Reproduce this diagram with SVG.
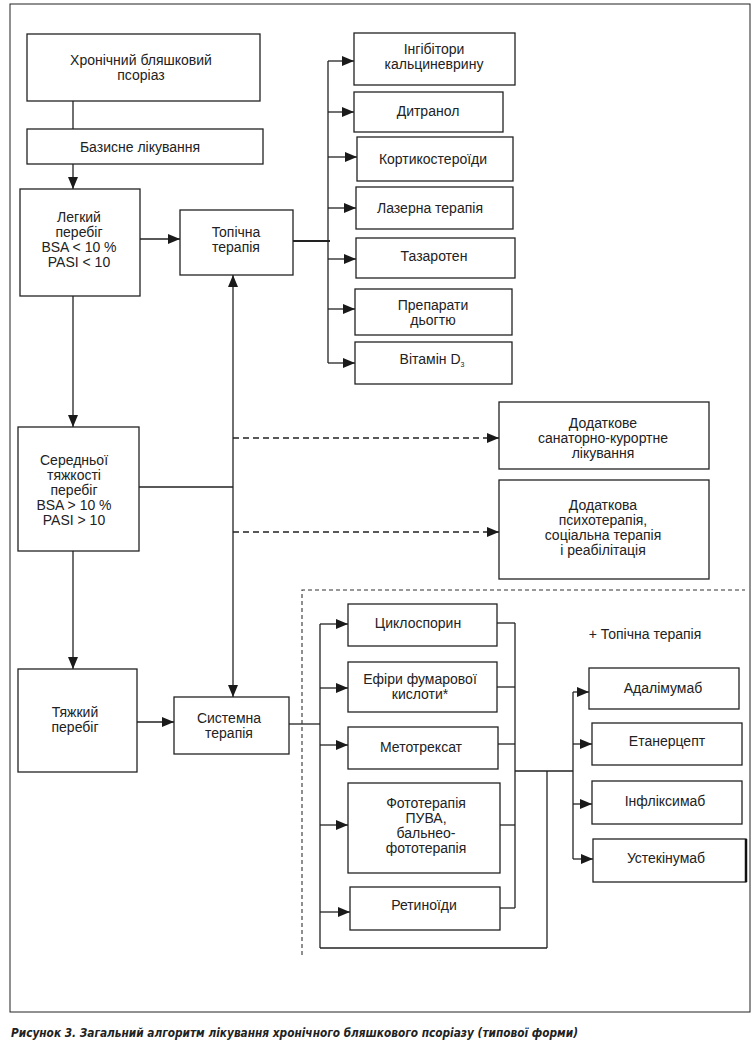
<svg xmlns="http://www.w3.org/2000/svg" width="756" height="1048" viewBox="0 0 756 1048">
<defs>
<marker id="ah" markerWidth="12" markerHeight="10" refX="12" refY="5" orient="auto" markerUnits="userSpaceOnUse">
<path d="M0,0 L12,5 L0,10 Z" fill="#1a1a1a"/>
</marker>
</defs>
<style>
.box{fill:#fff;stroke:#222;stroke-width:1.3}
.t{font-family:"Liberation Sans",Arial,sans-serif;font-size:14px;fill:#222;text-anchor:middle}
.c{fill:none;stroke:#222;stroke-width:1.3}
.ca{fill:none;stroke:#222;stroke-width:1.3;marker-end:url(#ah)}
.d{fill:none;stroke:#222;stroke-width:1.6;stroke-dasharray:6,4;marker-end:url(#ah)}
.dr{fill:none;stroke:#333;stroke-width:1.1;stroke-dasharray:4,3}
.cap{font-family:"Liberation Sans Narrow","DejaVu Sans Condensed","Liberation Sans",sans-serif;font-size:12px;font-weight:bold;font-style:italic;fill:#222}
</style>
<rect x="0" y="0" width="756" height="1048" fill="#fff"/>
<rect x="10" y="4" width="740" height="1008" fill="none" stroke="#222" stroke-width="1"/>

<g id="connectors">
<line class="c" x1="73" y1="101" x2="73" y2="129"/>
<line class="ca" x1="73" y1="164" x2="73" y2="189"/>
<line class="ca" x1="140" y1="239" x2="180" y2="239"/>
<line class="c" x1="293" y1="241" x2="330" y2="241" style="stroke-width:2"/>
<line class="c" x1="328" y1="61" x2="328" y2="363"/>
<line class="ca" x1="328" y1="61" x2="354" y2="61"/>
<line class="ca" x1="328" y1="112" x2="354" y2="112"/>
<line class="ca" x1="328" y1="157" x2="357" y2="157"/>
<line class="ca" x1="328" y1="208" x2="356" y2="208"/>
<line class="ca" x1="328" y1="259" x2="356" y2="259"/>
<line class="ca" x1="328" y1="309" x2="355" y2="309"/>
<line class="ca" x1="328" y1="363" x2="355" y2="363"/>
<line class="ca" x1="73" y1="296" x2="73" y2="427"/>
<line class="ca" x1="233" y1="487" x2="233" y2="275"/>
<line class="ca" x1="233" y1="487" x2="233" y2="697"/>
<line class="c" x1="139" y1="487" x2="233" y2="487"/>
<line class="d" x1="233" y1="438" x2="499" y2="438"/>
<line class="d" x1="233" y1="532" x2="499" y2="532"/>
<line class="ca" x1="73" y1="551" x2="73" y2="669"/>
<line class="ca" x1="137" y1="722" x2="174" y2="722"/>
<line class="c" x1="289" y1="724" x2="320" y2="724"/>
<line class="c" x1="320" y1="624" x2="320" y2="948"/>
<line class="ca" x1="320" y1="624" x2="348" y2="624"/>
<line class="ca" x1="320" y1="688" x2="348" y2="688"/>
<line class="ca" x1="320" y1="745" x2="348" y2="745"/>
<line class="ca" x1="320" y1="825" x2="348" y2="825"/>
<line class="ca" x1="320" y1="912" x2="350" y2="912"/>
<line class="c" x1="320" y1="948" x2="547" y2="948"/>
<line class="c" x1="497" y1="623" x2="515" y2="623"/>
<line class="c" x1="497" y1="687" x2="515" y2="687"/>
<line class="c" x1="498" y1="744" x2="515" y2="744"/>
<line class="c" x1="500" y1="825" x2="515" y2="825"/>
<line class="c" x1="500" y1="908" x2="515" y2="908"/>
<line class="c" x1="515" y1="623" x2="515" y2="908"/>
<line class="c" x1="515" y1="771" x2="573" y2="771"/>
<line class="c" x1="547" y1="771" x2="547" y2="948"/>
<line class="c" x1="573" y1="692" x2="573" y2="859"/>
<line class="ca" x1="573" y1="692" x2="589" y2="692"/>
<line class="ca" x1="573" y1="744" x2="592" y2="744"/>
<line class="ca" x1="573" y1="804" x2="592" y2="804"/>
<line class="ca" x1="573" y1="859" x2="593" y2="859"/>
<polyline class="dr" points="302,955 302,590 745,590"/>
</g>

<g id="n-chronic"><rect class="box" x="27" y="34" width="233" height="67"/>
<text class="t" x="141" y="65">Хронічний бляшковий</text><text class="t" x="141" y="80">псоріаз</text></g>
<g id="n-basis"><rect class="box" x="27" y="129" width="236" height="35"/>
<text class="t" x="140" y="152">Базисне лікування</text></g>
<g id="n-mild"><rect class="box" x="20" y="189" width="120" height="107"/>
<text class="t" x="79" y="222">Легкий</text><text class="t" x="79" y="237">перебіг</text><text class="t" x="79" y="252">BSA &lt; 10 %</text><text class="t" x="79" y="267">PASI &lt; 10</text></g>
<g id="n-topical"><rect class="box" x="180" y="210" width="113" height="65"/>
<text class="t" x="236" y="237">Топічна</text><text class="t" x="236" y="252">терапія</text></g>

<g id="n-calc"><rect class="box" x="354" y="33" width="161" height="52"/>
<text class="t" x="434" y="54">Інгібітори</text><text class="t" x="434" y="69">кальциневрину</text></g>
<g id="n-ditr"><rect class="box" x="354" y="92" width="149" height="40"/>
<text class="t" x="428" y="116">Дитранол</text></g>
<g id="n-cort"><rect class="box" x="357" y="137" width="156" height="44"/>
<text class="t" x="433" y="164">Кортикостероїди</text></g>
<g id="n-laser"><rect class="box" x="356" y="187" width="157" height="42"/>
<text class="t" x="430" y="213">Лазерна терапія</text></g>
<g id="n-taz"><rect class="box" x="356" y="238" width="159" height="40"/>
<text class="t" x="434" y="261">Тазаротен</text></g>
<g id="n-tar"><rect class="box" x="355" y="289" width="157" height="46"/>
<text class="t" x="433" y="310">Препарати</text><text class="t" x="433" y="325">дьогтю</text></g>
<g id="n-vitd"><rect class="box" x="355" y="342" width="157" height="42"/>
<text class="t" x="432" y="364">Вітамін D<tspan font-size="7" dy="3">3</tspan></text></g>

<g id="n-sanat"><rect class="box" x="499" y="402" width="210" height="67"/>
<text class="t" x="603" y="428">Додаткове</text><text class="t" x="603" y="443">санаторно-курортне</text><text class="t" x="603" y="458">лікування</text></g>
<g id="n-psych"><rect class="box" x="499" y="480" width="210" height="99"/>
<text class="t" x="603" y="510">Додаткова</text><text class="t" x="603" y="525">психотерапія,</text><text class="t" x="603" y="540">соціальна терапія</text><text class="t" x="603" y="555">і реабілітація</text></g>

<g id="n-moderate"><rect class="box" x="18" y="427" width="121" height="124"/>
<text class="t" x="74" y="465">Середньої</text><text class="t" x="74" y="480">тяжкості</text><text class="t" x="74" y="495">перебіг</text><text class="t" x="74" y="510">BSA &gt; 10 %</text><text class="t" x="74" y="525">PASI &gt; 10</text></g>
<g id="n-severe"><rect class="box" x="18" y="669" width="119" height="103"/>
<text class="t" x="75" y="717">Тяжкий</text><text class="t" x="75" y="732">перебіг</text></g>
<g id="n-system"><rect class="box" x="174" y="697" width="115" height="57"/>
<text class="t" x="229" y="723">Системна</text><text class="t" x="229" y="738">терапія</text></g>

<g id="n-cyclo"><rect class="box" x="348" y="604" width="149" height="42"/>
<text class="t" x="418" y="628">Циклоспорин</text></g>
<g id="n-fum"><rect class="box" x="348" y="662" width="149" height="50"/>
<text class="t" x="420" y="684">Ефіри фумарової</text><text class="t" x="420" y="699">кислоти*</text></g>
<g id="n-mtx"><rect class="box" x="348" y="727" width="150" height="42"/>
<text class="t" x="421" y="752">Метотрексат</text></g>
<g id="n-photo"><rect class="box" x="348" y="783" width="152" height="90"/>
<text class="t" x="426" y="808">Фототерапія</text><text class="t" x="426" y="823">ПУВА,</text><text class="t" x="426" y="838">бальнео-</text><text class="t" x="426" y="853">фототерапія</text></g>
<g id="n-retin"><rect class="box" x="350" y="887" width="150" height="43"/>
<text class="t" x="424" y="910">Ретиноїди</text></g>

<g id="n-plus"><text class="t" x="645" y="639">+ Топічна терапія</text></g>
<g id="n-adal"><rect class="box" x="589" y="668" width="150" height="41"/>
<text class="t" x="663" y="693">Адалімумаб</text></g>
<g id="n-etan"><rect class="box" x="592" y="723" width="150" height="42"/>
<text class="t" x="667" y="746">Етанерцепт</text></g>
<g id="n-infl"><rect class="box" x="592" y="781" width="150" height="43"/>
<text class="t" x="665" y="806">Інфліксимаб</text></g>
<g id="n-ustek"><rect class="box" x="593" y="839" width="153" height="43"/>
<text class="t" x="666" y="863">Устекінумаб</text>
<line x1="746" y1="839" x2="746" y2="882" stroke="#111" stroke-width="2.5"/></g>

<text class="cap" x="11" y="1037" textLength="567" lengthAdjust="spacingAndGlyphs">Рисунок 3. Загальний алгоритм лікування хронічного бляшкового псоріазу (типової форми)</text>
</svg>
